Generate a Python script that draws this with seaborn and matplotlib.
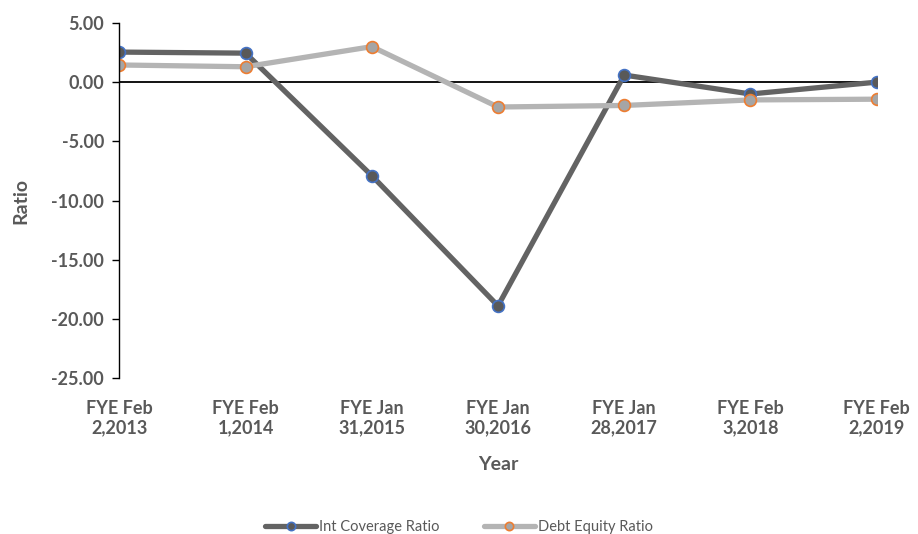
import matplotlib
matplotlib.use("Agg")
import matplotlib.pyplot as plt
import seaborn as sns
import pandas as pd

# ---------- DATA ----------
years = [
    "FYE Feb\n2,2013",
    "FYE Feb\n1,2014",
    "FYE Jan\n31,2015",
    "FYE Jan\n30,2016",
    "FYE Jan\n28,2017",
    "FYE Feb\n3,2018",
    "FYE Feb\n2,2019",
]
int_coverage = [2.54, 2.45, -7.9, -18.9, 0.6, -1.0, 0.0]
debt_equity = [1.45, 1.3, 3.0, -2.1, -1.97, -1.5, -1.44]
y_ticks = [5, 0, -5, -10, -15, -20, -25]

df = pd.DataFrame({"Year": years, "Int": int_coverage, "Debt": debt_equity})

# ---------- STYLE ----------
sns.set_style("white")
plt.rcParams["font.family"] = ["Lato", "DejaVu Sans"]
text_grey = "#595959"

fig = plt.figure(figsize=(9.18, 5.34), dpi=100)
ax = fig.add_axes([0.13, 0.292, 0.825, 0.665])

sns.lineplot(data=df, x="Year", y="Int", ax=ax, sort=False, color="#636363",
             linewidth=3.8, marker="o", markersize=8.5, markerfacecolor="#595959",
             markeredgecolor="#4472C4", markeredgewidth=1.2,
             label="Int Coverage Ratio")
sns.lineplot(data=df, x="Year", y="Debt", ax=ax, sort=False, color="#B4B4B4",
             linewidth=3.8, marker="o", markersize=8.5, markerfacecolor="#A5A5A5",
             markeredgecolor="#ED7D31", markeredgewidth=1.2,
             label="Debt Equity Ratio")

ax.axhline(0, color="black", linewidth=1.3, zorder=1)

ax.set_xlim(0, len(years) - 1)
ax.set_ylim(-25, 5)
ax.set_yticks(y_ticks)
ax.set_yticklabels([f"{t:.2f}" for t in y_ticks], fontsize=13, fontweight="bold",
                   color=text_grey)
ax.set_xticks(range(len(years)))
ax.set_xticklabels(years, fontsize=13, fontweight="bold", color=text_grey,
                   linespacing=1.15)
ax.tick_params(axis="x", length=0, pad=16)
ax.tick_params(axis="y", left=True, length=5, width=1, color="black", pad=6)

for side in ["top", "right", "bottom"]:
    ax.spines[side].set_visible(False)
ax.spines["left"].set_color("black")
ax.spines["left"].set_linewidth(1.0)
ax.grid(False)

ax.set_xlabel("Year", fontsize=14, fontweight="bold", color=text_grey, labelpad=14)
ax.set_ylabel("Ratio", fontsize=14, fontweight="bold", color=text_grey, labelpad=16)

ax.get_legend().remove()
handles, labels = ax.get_legend_handles_labels()
fig.legend(handles, labels, loc="lower center", bbox_to_anchor=(0.5, -0.025), ncol=2,
           frameon=False, fontsize=10.5, labelcolor=text_grey, handlelength=3.5,
           handletextpad=0.2, columnspacing=3, markerscale=0.7)

fig.savefig("out.png", dpi=100)
